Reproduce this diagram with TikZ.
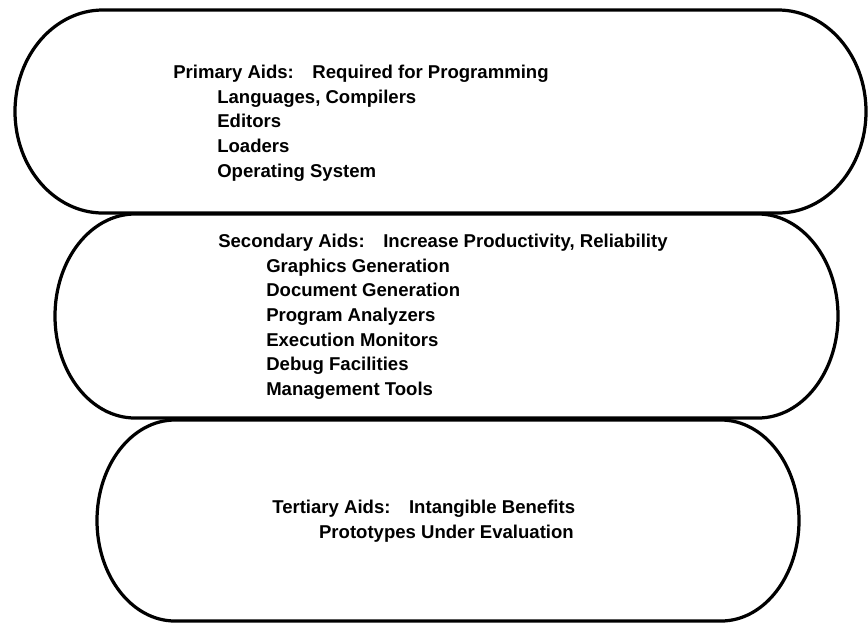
\documentclass[tikz,border=0pt]{standalone}
\usepackage{fontspec}
\setmainfont{Liberation Sans}
\usetikzlibrary{positioning}

% one rounded band: left x, right x, top y, bottom y, end radius
\newcommand{\drawaid}[5]{%
  \draw[aidline] (#1+#5,#3) -- (#2-#5,#3)
    arc[start angle=-90,end angle=90,x radius=#5,y radius={(#4-#3)/2}]
    -- (#1+#5,#4)
    arc[start angle=90,end angle=270,x radius=#5,y radius={(#4-#3)/2}] -- cycle;}

\begin{document}
\begin{tikzpicture}[x=0.25mm,y=-0.25mm,
  aidline/.style={line width=2.3pt,line join=round},
  aidtext/.style={anchor=north west,inner sep=0pt,align=left,
    font=\bfseries\fontsize{13.2}{17.5}\selectfont}]
\useasboundingbox (0,0) rectangle (868,622);

\drawaid{15}{866}{10}{213}{88}
\drawaid{55}{838}{214}{418}{80}
\drawaid{97}{799}{420}{621}{78}

\node[aidtext] (prim) at (173,65) {Primary Aids:\quad Required for Programming\\
  \hspace*{11mm}Languages, Compilers\\
  \hspace*{11mm}Editors\\
  \hspace*{11mm}Loaders\\
  \hspace*{11mm}Operating System};
\node[aidtext] (sec) at (218,234) {Secondary Aids:\quad Increase Productivity, Reliability\\
  \hspace*{12mm}Graphics Generation\\
  \hspace*{12mm}Document Generation\\
  \hspace*{12mm}Program Analyzers\\
  \hspace*{12mm}Execution Monitors\\
  \hspace*{12mm}Debug Facilities\\
  \hspace*{12mm}Management Tools};
\node[aidtext] (tert) at (272,500) {Tertiary Aids:\quad Intangible Benefits\\
  \hspace*{11.7mm}Prototypes Under Evaluation};
\end{tikzpicture}
\end{document}
